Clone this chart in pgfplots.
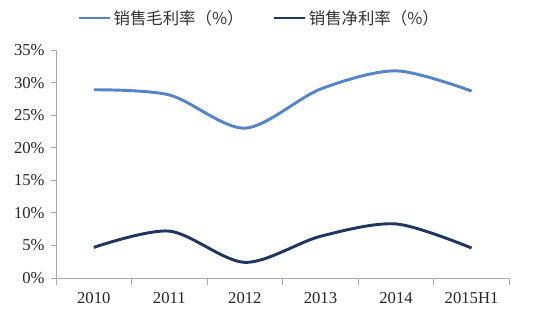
\documentclass[border=0pt]{standalone}
\usepackage{fontspec}
\setmainfont{Liberation Serif}
\newfontfamily\cjk{Noto Sans CJK SC}
\usepackage{pgfplots}
\pgfplotsset{compat=1.18}
\definecolor{gross}{RGB}{84,132,201}
\definecolor{net}{RGB}{30,55,98}
\definecolor{axgray}{RGB}{170,170,170}
\begin{document}
\begin{tikzpicture}
\useasboundingbox (-42pt,-27pt) rectangle (359.25pt,208.5pt);
\begin{axis}[
  at={(0,0)}, anchor=south west,
  scale only axis, width=340pt, height=171pt,
  xmin=-0.5, xmax=5.5, ymin=0, ymax=35,
  axis x line*=bottom, axis y line*=left,
  axis line style={axgray, line width=0.6pt},
  xtick={0,1,2,3,4,5},
  xticklabels={2010,2011,2012,2013,2014,2015H1},
  major x tick style={draw=none},
  minor xtick={-0.5,0.5,1.5,2.5,3.5,4.5,5.5},
  minor x tick style={axgray, line width=0.6pt},
  minor tick length=5pt,
  ytick={0,5,...,35},
  yticklabel={\pgfmathprintnumber{\tick}\%},
  y tick style={axgray, line width=0.6pt},
  major tick length=4pt,
  tick align=outside,
  /pgf/number format/assume math mode=true,
  tick label style={font=\fontsize{12.5}{14}\selectfont, text=black!85},
  xticklabel style={yshift=-3pt},
  yticklabel style={xshift=-1pt},
  legend columns=2,
  legend style={at={(0.449,1.14)}, anchor=center, draw=none, fill=none,
    font=\cjk\fontsize{12.3}{14}\selectfont, text=black!80,
    /tikz/every even column/.append style={column sep=20pt}},
  legend image code/.code={\draw[#1, line width=2pt] (0pt,0pt) -- (23pt,0pt);},
]
\addplot[gross, line width=2.2pt, smooth, tension=0.5] coordinates {
  (0,28.9) (1,28.1) (2,23.0) (3,29.0) (4,31.8) (5,28.7)};
\addlegendentry{销售毛利率（\%）}
\addplot[net, line width=2.2pt, smooth, tension=0.5] coordinates {
  (0,4.7) (1,7.2) (2,2.4) (3,6.4) (4,8.3) (5,4.6)};
\addlegendentry{销售净利率（\%）}
\end{axis}
\end{tikzpicture}
\end{document}
